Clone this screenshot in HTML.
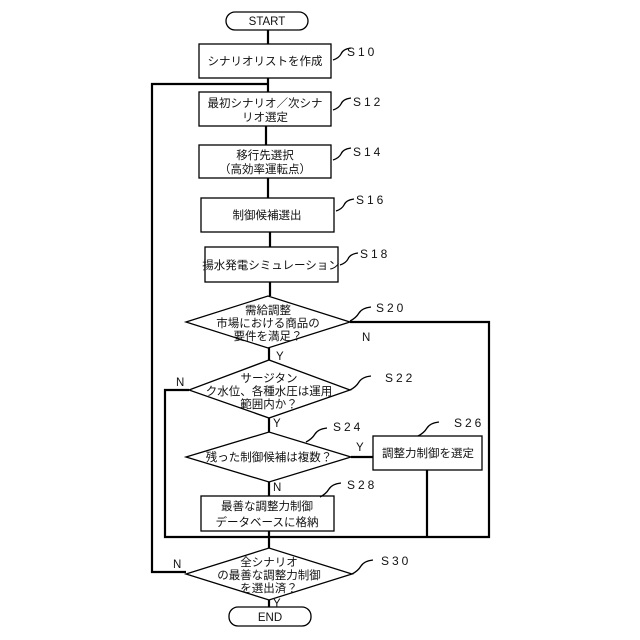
<!DOCTYPE html>
<html><head><meta charset="utf-8"><style>
body{margin:0;background:#fff}
svg{display:block}
text{font-family:"Liberation Sans","Noto Sans CJK JP",sans-serif;font-size:11.5px;fill:#111}
.l{font-size:12px;letter-spacing:3px}
</style></head><body>
<svg width="640" height="640" viewBox="0 0 640 640">
<defs><marker id="a" markerWidth="6" markerHeight="6" refX="5" refY="3" orient="auto"><path d="M0,0 L6,3 L0,6z" fill="#000"/></marker></defs>
<g fill="none" stroke="#000" stroke-width="1.3">
<rect x="226" y="12" width="82" height="18" rx="9"/>
<rect x="199" y="44" width="132" height="34"/>
<rect x="199" y="92" width="132" height="34"/>
<rect x="199" y="145" width="132" height="33"/>
<rect x="201" y="198" width="133" height="34"/>
<rect x="205" y="247" width="133" height="35"/>
<polygon points="186,322 268,296 350,322 268,348"/>
<polygon points="189,390 269,360 350,390 269,418"/>
<polygon points="186,457 269,432 351,457 269,482"/>
<rect x="373" y="436" width="109" height="34"/>
<rect x="201" y="496" width="133" height="35"/>
<polygon points="186,574 269,548 352,574 269,600"/>
<rect x="229" y="607" width="82" height="19" rx="9"/>
<!-- leaders -->
<path d="M333,60 q6,-2 8,-6 q2,-5 10,-6"/>
<path d="M333,110 q6,-2 8,-6 q2,-5 10,-6"/>
<path d="M333,160 q6,-2 8,-6 q2,-5 10,-6"/>
<path d="M336,211 q6,-2 8,-6 q2,-5 10,-6"/>
<path d="M340,265 q6,-2 8,-6 q2,-5 10,-6"/>
<path d="M350,321 q6,-3 9,-8 q3,-5 12,-6"/>
<path d="M350,390 q6,-3 9,-8 q3,-5 12,-6"/>
<path d="M306,442 q6,-3 9,-8 q3,-5 12,-6"/>
<path d="M418,436 q6,-3 9,-8 q3,-5 12,-6"/>
<path d="M320,497 q6,-3 9,-8 q3,-5 12,-6"/>
<path d="M352,574 q6,-3 9,-8 q3,-5 12,-6"/>
</g>
<g fill="none" stroke="#000" stroke-width="2.2">
<path d="M268,30 V44"/>
<path d="M268,78 V92"/>
<path d="M266,126 V145"/>
<path d="M268,178 V198"/>
<path d="M270,232 V247"/>
<path d="M270,282 V296"/>
<path d="M269,348 V360"/>
<path d="M269,418 V432"/>
<path d="M269,482 V496"/>
<path d="M269,531 V548"/>
<path d="M269,600 V607"/>
<path d="M351,457 H373"/>
<path d="M350,322 H489 V537 H165 V390 H189"/>
<path d="M427,470 V537"/>
<path d="M186,572 H152 V84 H268"/>
</g>
<text x="267" y="25" text-anchor="middle">START</text>
<text x="265" y="65" text-anchor="middle">シナリオリストを作成</text>
<text x="265" y="107" text-anchor="middle">最初シナリオ／次シナ</text>
<text x="265" y="121" text-anchor="middle">リオ選定</text>
<text x="265" y="159" text-anchor="middle">移行先選択</text>
<text x="265" y="173" text-anchor="middle">（高効率運転点）</text>
<text x="267" y="219" text-anchor="middle">制御候補選出</text>
<text x="271" y="269" text-anchor="middle">揚水発電シミュレーション</text>
<text x="268" y="314" text-anchor="middle">需給調整</text>
<text x="268" y="327" text-anchor="middle">市場における商品の</text>
<text x="268" y="340" text-anchor="middle">要件を満足？</text>
<text x="269" y="382" text-anchor="middle">サージタン</text>
<text x="269" y="395" text-anchor="middle">ク水位、各種水圧は運用</text>
<text x="269" y="408" text-anchor="middle">範囲内か？</text>
<text x="269" y="461" text-anchor="middle">残った制御候補は複数？</text>
<text x="428" y="457" text-anchor="middle">調整力制御を選定</text>
<text x="267" y="510" text-anchor="middle">最善な調整力制御</text>
<text x="267" y="526" text-anchor="middle">データベースに格納</text>
<text x="269" y="566" text-anchor="middle">全シナリオ</text>
<text x="269" y="579" text-anchor="middle">の最善な調整力制御</text>
<text x="269" y="592" text-anchor="middle">を選出済？</text>
<text x="270" y="621" text-anchor="middle">END</text>
<text x="276" y="360">Y</text><text x="362" y="341">N</text>
<text x="176" y="386">N</text><text x="273" y="427">Y</text>
<text x="356" y="451">Y</text><text x="273" y="491">N</text>
<text x="173" y="568">N</text><text x="273" y="607">Y</text>
<text class="l" x="347" y="56">S10</text>
<text class="l" x="353" y="106">S12</text>
<text class="l" x="353" y="156">S14</text>
<text class="l" x="356" y="204">S16</text>
<text class="l" x="360" y="258">S18</text>
<text class="l" x="376" y="312">S20</text>
<text class="l" x="385" y="382">S22</text>
<text class="l" x="333" y="431">S24</text>
<text class="l" x="454" y="427">S26</text>
<text class="l" x="347" y="489">S28</text>
<text class="l" x="381" y="565">S30</text>
</svg>
</body></html>
